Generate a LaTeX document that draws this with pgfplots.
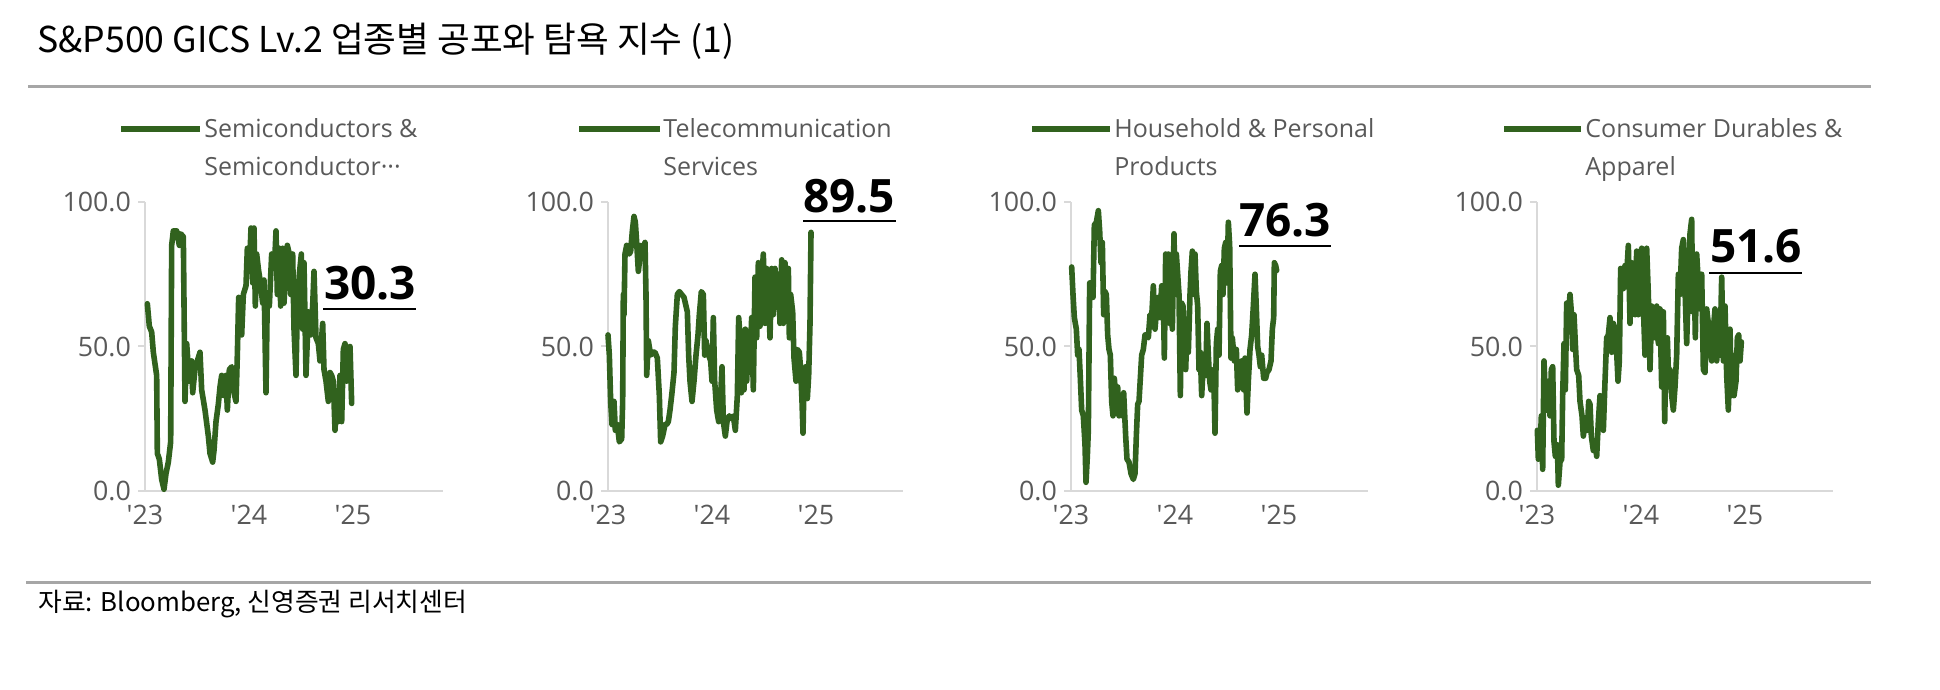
\documentclass[border=0pt]{standalone}
\usepackage{fontspec}
\setmainfont{Open Sans}
\newfontfamily\kr{Noto Sans CJK KR}
\usepackage{pgfplots}
\pgfplotsset{compat=1.18}
\definecolor{lineg}{HTML}{31621E}
\definecolor{txtg}{HTML}{595959}
\definecolor{axg}{HTML}{D9D9D9}
\definecolor{ruleg}{HTML}{A6A6A6}
\tikzset{dline/.style={draw=lineg, line width=2.8pt, line join=round, line cap=round}}
\pgfplotsset{panel/.style={
  scale only axis, height=144.5pt, xmin=0, ymin=0, ymax=100, clip=false,
  axis x line=bottom, axis y line=left,
  axis line style={-, draw=axg, line width=1pt},
  xtick={0,312,624}, xticklabels={\textquotesingle23,\textquotesingle24,\textquotesingle25},
  ytick={0,50,100},
  tick align=outside, major tick length=3.5pt,
  ytick style={draw=axg, line width=1pt},
  xtick style={draw=none},
  tick label style={font=\fontsize{13.4}{16}\selectfont, color=txtg},
  /pgf/number format/assume math mode=true,
  yticklabel style={/pgf/number format/.cd, fixed, fixed zerofill, precision=1},
}}
\newcommand{\bignum}{\fontsize{23}{27}\selectfont\bfseries}
\newcommand{\legf}{\fontsize{12.5}{15}\selectfont\color{txtg}}
\begin{document}
\begin{tikzpicture}
\path[use as bounding box] (0,0) rectangle (970pt,345pt);
% title and rules
\node[anchor=base west, inner sep=0] at (18.5pt,318.5pt) {\kr\fontsize{17.8}{21}\selectfont S\&P500 GICS Lv.2 업종별 공포와 탐욕 지수 (1)};
\draw[ruleg, line width=1.5pt] (14pt,301.5pt) -- (935.5pt,301.5pt);
\draw[ruleg, line width=1.5pt] (13pt,53.5pt) -- (935.5pt,53.5pt);
\node[anchor=base west, inner sep=0] at (19pt,39pt) {\kr\fontsize{12.9}{16}\selectfont 자료: Bloomberg, 신영증권 리서치센터};
% legends
\draw[dline, line cap=butt] (60.5pt,280.5pt) -- (100pt,280.5pt);
\node[anchor=base west, inner sep=0] at (102pt,276pt) {\legf Semiconductors \&};
\node[anchor=base west, inner sep=0] at (102pt,257pt) {\legf Semiconductor···};
\draw[dline, line cap=butt] (289.5pt,280.5pt) -- (330pt,280.5pt);
\node[anchor=base west, inner sep=0] at (331.5pt,276pt) {\legf Telecommunication};
\node[anchor=base west, inner sep=0] at (331.5pt,257pt) {\legf Services};
\draw[dline, line cap=butt] (516pt,280.5pt) -- (555pt,280.5pt);
\node[anchor=base west, inner sep=0] at (557pt,276pt) {\legf Household \& Personal};
\node[anchor=base west, inner sep=0] at (557pt,257pt) {\legf Products};
\draw[dline, line cap=butt] (752pt,280.5pt) -- (790.5pt,280.5pt);
\node[anchor=base west, inner sep=0] at (792.5pt,276pt) {\legf Consumer Durables \&};
\node[anchor=base west, inner sep=0] at (792.5pt,257pt) {\legf Apparel};

% Panel 1
\begin{axis}[panel, at={(72.5pt,99.5pt)}, anchor=south west, width=149pt, xmax=894]
\addplot[dline, no marks] table {
x y
7 64.8
13 57
20 55
25 48
35 40
37 13
43 11
50 4
57 0.6
63 6
70 10
77 17
80 85
85 90
95 90
103 85
107 89
115 88
120 31
125 51
133 38
140 45
143 34
150 42
157 45
165 48
170 35
180 28
190 19
195 13
203 10
207 14
213 24
220 30
225 36
230 40
237 33
243 40
247 28
253 42
260 43
265 35
273 31
277 47
281 67
285 64
290 54
295 68
303 71
307 84
313 76
318 91
323 72
327 91
331 64
335 82
340 77
345 73
353 65
357 73
363 34
367 68
373 64
380 82
385 77
390 82
393 90
397 68
403 84
407 64
413 84
417 65
423 79
427 85
433 82
437 68
443 82
447 56
453 40
457 64
463 75
469 82
473 56
477 79
483 40
490 62
497 54
503 64
507 76
513 53
520 51
525 45
533 58
537 42
543 38
550 31
555 41
560 40
565 38
570 21
575 33
580 24
585 40
590 24
595 49
600 51
605 38
610 49
615 50
620 30.3
};
\node[anchor=base, inner sep=0] at (axis cs:675,66.1) {\bignum 30.3};
\draw[line width=1pt] (axis cs:534,63) -- (axis cs:813,63);
\end{axis}

% Panel 2
\begin{axis}[panel, at={(304pt,99.5pt)}, anchor=south west, width=147.5pt, xmax=885]
\addplot[dline, no marks] table {
x y
0 54
4 47
8 31
12 23
18 31
22 21
28 23
34 17
41 18
44 31
46 68
48 61
51 82
56 85
64 82
68 83
73 90
78 95
82 93
86 86
91 76
94 79
98 85
104 84
111 86
114 68
116 40
121 52
128 47
134 48
141 48
148 46
154 33
158 17
164 19
171 23
176 23
181 24
186 28
191 33
198 41
202 57
208 68
214 69
221 68
228 67
234 64
238 62
242 47
246 38
252 31
258 38
264 47
270 54
274 61
280 69
286 68
290 47
294 52
298 49
302 47
308 45
312 38
316 60
320 38
326 28
332 24
338 33
342 43
346 24
352 19
358 25
364 26
370 25
376 26
382 21
388 33
392 60
396 54
400 34
404 49
408 35
412 56
416 38
422 54
426 45
431 60
436 35
441 74
446 53
451 79
456 57
461 73
466 82
471 58
476 77
481 68
486 53
491 77
496 61
501 77
506 68
511 75
516 58
521 80
526 58
531 79
536 68
541 77
544 53
548 68
554 62
558 46
564 38
568 49
574 48
578 42
582 31
585 20
588 38
593 43
598 32
602 40
606 58
609 89.5
};
\node[anchor=base, inner sep=0] at (axis cs:723,96.2) {\bignum 89.5};
\draw[line width=1pt] (axis cs:585,93.4) -- (axis cs:864,93.4);
\end{axis}

% Panel 3
\begin{axis}[panel, at={(535.5pt,99.5pt)}, anchor=south west, width=148.5pt, xmax=891]
\addplot[dline, no marks] table {
x y
2 77.5
6 68
10 60
16 56
20 47
24 49
28 39
32 28
37 26
42 16
45 3
49 12
52 21
56 72
62 72
66 67
70 92
76 93
82 97
86 90
90 79
94 86
98 61
102 69
106 68
110 54
114 49
118 47
122 31
126 26
130 39
134 33
140 36
144 26
148 32
154 26
158 34
164 19
168 11
174 10
180 6
187 4
192 6
196 19
200 30
204 31
208 39
212 47
217 49
222 54
227 54
232 53
237 61
242 60
247 71
252 56
257 63
262 67
267 60
272 71
277 67
280 46
284 82
288 68
292 82
296 58
300 71
304 56
309 89
312 68
316 82
320 75
324 68
328 33
332 65
336 64
340 53
344 42
348 56
352 48
357 68
360 76
364 83
368 68
372 82
376 69
380 64
384 42
388 48
392 33
396 42
400 45
404 40
408 58
412 47
416 38
420 35
424 39
428 42
432 20
436 51
440 56
444 47
448 76
452 78
456 68
460 84
464 86
468 72
472 93
476 85
480 46
484 53
490 45
496 49
500 35
506 40
512 45
518 35
522 46
528 27
532 38
537 49
542 54
547 64
552 75
556 63
560 50
564 47
568 43
572 47
578 39
584 39
588 41
594 42
600 45
604 56
608 60
610 79
614 78
617 76.3
};
\node[anchor=base, inner sep=0] at (axis cs:642,87.9) {\bignum 76.3};
\draw[line width=1pt] (axis cs:504,84.8) -- (axis cs:780,84.8);
\end{axis}

% Panel 4
\begin{axis}[panel, at={(768.5pt,99.5pt)}, anchor=south west, width=148pt, xmax=888]
\addplot[dline, no marks] table {
x y
1 21
4 11
9 14
13 26
17 7.5
21 45
25 33
29 28
34 38
39 26
43 42
47 43
51 17
55 12
61 16
64 2
69 10
74 11
77 33
81 51
85 35
89 65
94 61
99 68
103 62
107 49
111 61
115 51
119 42
125 40
129 31
135 26
139 19
145 24
151 21
155 31
159 30
163 19
169 14
175 17
179 12
184 24
189 33
194 24
199 21
204 38
209 53
214 54
219 60
224 48
229 58
234 56
239 48
243 38
247 45
251 77
255 76
259 70
264 78
269 75
274 85
279 58
284 79
289 68
294 61
299 83
304 61
309 79
314 84
319 64
324 47
329 84
334 68
339 42
344 64
349 54
354 53
359 64
364 51
369 63
374 36
379 62
383 24
387 50
391 53
395 38
399 42
404 33
409 28
414 36
419 47
424 75
429 68
434 84
439 87
444 70
449 51
454 72
459 89
464 94
467 62
471 79
475 53
479 82
484 72
489 63
494 75
499 42
504 41
509 63
514 58
519 49
524 45
529 56
534 63
539 45
544 58
549 47
554 74
559 45
564 64
569 40
574 28
579 56
583 33
587 47
591 33
597 38
601 53
605 54
609 45
613 51.6
};
\node[anchor=base, inner sep=0] at (axis cs:657,79.2) {\bignum 51.6};
\draw[line width=1pt] (axis cs:516,75.4) -- (axis cs:795,75.4);
\end{axis}
\end{tikzpicture}
\end{document}
